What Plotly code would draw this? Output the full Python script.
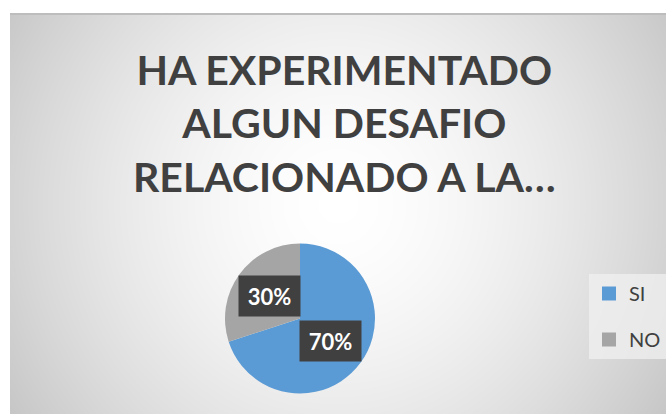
import numpy as np
import plotly.graph_objects as go

# ---- data ----
categories = ["SI", "NO"]
values = [70, 30]
label_texts = ["70%", "30%"]
colors = ["#5B9BD5", "#A5A5A5"]
title_lines = ["HA EXPERIMENTADO", "ALGUN DESAFIO", "RELACIONADO A LA…"]

W, H = 666, 415
BOX_L, BOX_T, BOX_R, BOX_B = 10, 14, 666, 414   # screen px of chart box
ML, MT = BOX_L, BOX_T
MR, MB = W - BOX_R, H - BOX_B
PW, PH = W - ML - MR, H - MT - MB


def px_to_paper(sx, sy):
    return (sx - BOX_L) / PW, (BOX_B - sy) / PH


fig = go.Figure()

# ---- radial grey background (style only) ----
gx = np.linspace(0, PW, 60)
gy = np.linspace(0, PH, 40)
X, Y = np.meshgrid(gx, gy)
D = np.sqrt((X - PW / 2) ** 2 + (Y - PH / 2 - 10) ** 2)
Z = 1 - (D / 390.0) ** 1.6
fig.add_trace(go.Heatmap(x=gx, y=gy, z=Z, zsmooth="best", showscale=False,
                         colorscale=[[0, "#c6c6c6"], [1, "#ffffff"]],
                         zmin=0, zmax=1, hoverinfo="skip",
                         xaxis="x", yaxis="y"))

# ---- pie ----
cx_px, cy_px, rad = 300, 318.5, 75
x0, y0 = px_to_paper(cx_px - rad, cy_px + rad)
x1, y1 = px_to_paper(cx_px + rad, cy_px - rad)
fig.add_trace(go.Pie(labels=categories, values=values, sort=False,
                     direction="clockwise", rotation=0,
                     marker=dict(colors=colors, line=dict(width=0)),
                     textinfo="none", hoverinfo="label+percent",
                     showlegend=False, domain=dict(x=[x0, x1], y=[y0, y1])))

# legend entries
for i, c in enumerate(categories):
    fig.add_trace(go.Scatter(x=[None], y=[None], mode="markers", name=c,
                             legendgroup=c,
                             marker=dict(symbol="square", size=14, color=colors[i]),
                             xaxis="x", yaxis="y"))

# ---- data labels as boxed annotations, placed from slice mid-angles ----
total = sum(values)
cum = 0
cxp, cyp = px_to_paper(cx_px, cy_px)
for v, t in zip(values, label_texts):
    mid = (cum + v / 2) / total * 2 * np.pi
    cum += v
    dx = 0.51 * rad * np.sin(mid)
    dy = 0.51 * rad * np.cos(mid)
    fig.add_annotation(x=cxp + dx / PW, y=cyp + dy / PH, xref="paper", yref="paper",
                       text="<b>%s</b>" % t, showarrow=False,
                       font=dict(family="Lato", size=22, color="white"),
                       bgcolor="#404040", width=59, height=38,
                       xanchor="center", yanchor="middle")

# ---- title ----
tx, ty = px_to_paper(345, 123)
fig.add_annotation(x=tx, y=ty, xref="paper", yref="paper",
                   text="<b>" + "<br>".join(title_lines) + "</b>", showarrow=False,
                   font=dict(family="Lato", size=41, color="#404040"),
                   xanchor="center", yanchor="middle", align="center")

# top border line
fig.add_shape(type="line", xref="paper", yref="paper", x0=0, x1=1, y0=1, y1=1,
              line=dict(color="#bdbdbd", width=2))

lx, ly = px_to_paper(589, 274)
fig.update_layout(
    width=W, height=H,
    margin=dict(l=ML, r=MR, t=MT, b=MB),
    paper_bgcolor="white", plot_bgcolor="rgba(0,0,0,0)",
    xaxis=dict(visible=False, range=[0, PW], domain=[0, 1], fixedrange=True),
    yaxis=dict(visible=False, range=[0, PH], domain=[0, 1], fixedrange=True),
    showlegend=True,
    legend=dict(x=lx, y=ly, xanchor="left", yanchor="top",
                bgcolor="rgba(240,240,240,0.75)", tracegroupgap=17,
                font=dict(family="Lato", size=20, color="#404040"),
                itemwidth=30),
)

fig.write_html("out.html",
               config={"displayModeBar": False},
               post_script="document.body.style.margin='0';"
                           "document.body.style.overflow='hidden';")
